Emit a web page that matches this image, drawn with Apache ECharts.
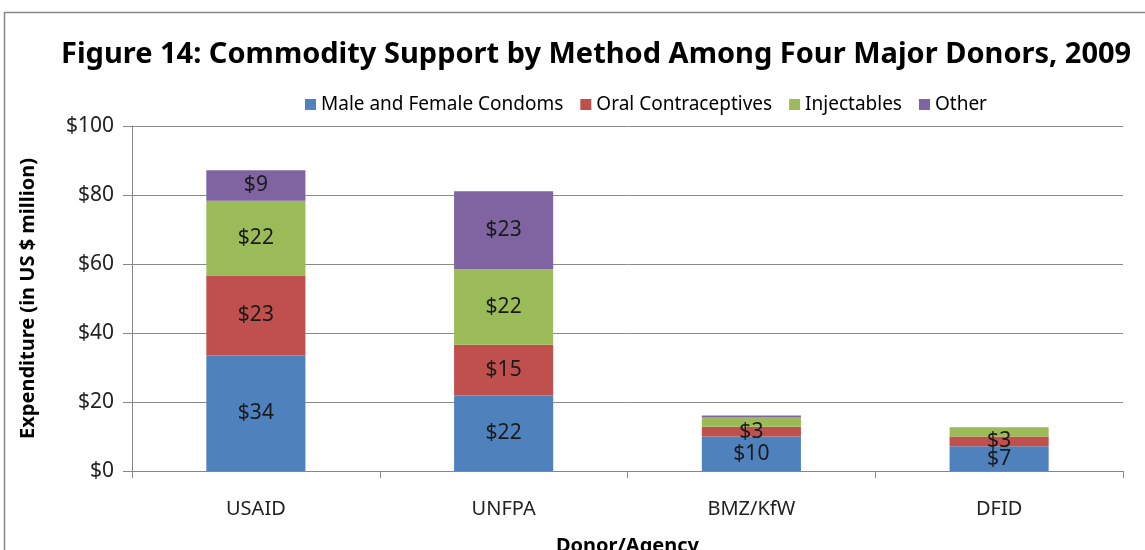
<!DOCTYPE html>
<html>
<head>
<meta charset="utf-8">
<script src="https://cdn.jsdelivr.net/npm/echarts@6/dist/echarts.min.js"></script>
<style>
  html, body { margin: 0; padding: 0; background: #fff; }
  #main { width: 1145px; height: 550px; }
</style>
</head>
<body>
<div id="main"></div>
<script>
var donors = ['USAID', 'UNFPA', 'BMZ/KfW', 'DFID'];
var condoms = [33.5, 21.9, 10.0, 7.2];
var oral = [23.2, 14.7, 2.8, 2.8];
var injectables = [21.6, 21.9, 2.7, 2.7];
var other = [8.9, 22.6, 0.6, 0];
var seriesNames = ['Male and Female Condoms', 'Oral Contraceptives', 'Injectables', 'Other'];
var colors = ['#4F81BD', '#C0504D', '#9BBB59', '#8064A2'];

var chartDom = document.getElementById('main');
var myChart = echarts.init(chartDom);
var font = 'Noto Sans';

// small segments get no label, as in the original
function withLabels(values) {
    return values.map(function (v) {
        return { value: v, label: { show: v >= 2.75 } };
    });
}

function makeSeries(name, values) {
    return {
        name: name,
        type: 'bar',
        stack: 'total',
        barWidth: '40%',
        data: withLabels(values),
        label: {
            position: 'inside',
            color: '#1a1a1a',
            fontFamily: font,
            fontSize: 21,
            formatter: function (p) { return '$' + Math.round(p.value); }
        }
    };
}

var option = {
    color: colors,
    animation: false,
    textStyle: { fontFamily: font },
    title: {
        text: 'Figure 14: Commodity Support by Method Among Four Major Donors, 2009',
        left: 56,
        top: 35,
        textStyle: { fontFamily: font, fontSize: 29, fontWeight: 'bold', color: '#000' }
    },
    legend: {
        top: 90,
        left: 300,
        itemWidth: 11,
        itemHeight: 11,
        itemGap: 17,
        icon: 'rect',
        textStyle: { fontFamily: font, fontSize: 19, color: '#000' },
        data: seriesNames
    },
    graphic: [{
        type: 'rect',
        shape: { x: 4.5, y: 12.5, width: 1160, height: 560 },
        style: { fill: 'none', stroke: '#888', lineWidth: 1.5 },
        silent: true
    }],
    grid: { left: 132, right: 22, top: 126, bottom: 79, outerBoundsMode: 'none', containLabel: false },
    xAxis: {
        type: 'category',
        data: donors,
        name: 'Donor/Agency',
        nameLocation: 'middle',
        nameGap: 65,
        nameTextStyle: { fontFamily: font, fontSize: 20, fontWeight: 'bold', color: '#000' },
        axisLine: { lineStyle: { color: '#868686' } },
        axisTick: { show: true, length: 7, lineStyle: { color: '#868686' } },
        axisLabel: { fontFamily: font, fontSize: 20, color: '#222', margin: 28 }
    },
    yAxis: {
        type: 'value',
        min: 0,
        max: 100,
        interval: 20,
        name: 'Expenditure (in US $ million)',
        nameLocation: 'middle',
        nameGap: 94,
        nameTextStyle: { fontFamily: font, fontSize: 20, fontWeight: 'bold', color: '#000' },
        axisLine: { show: true, lineStyle: { color: '#868686' } },
        axisTick: { show: true, length: 9, lineStyle: { color: '#868686' } },
        axisLabel: {
            fontFamily: font, fontSize: 21, color: '#222', margin: 18,
            formatter: function (v) { return '$' + v; }
        },
        splitLine: { lineStyle: { color: '#8a8a8a', width: 1 } }
    },
    series: [
        makeSeries(seriesNames[0], condoms),
        makeSeries(seriesNames[1], oral),
        makeSeries(seriesNames[2], injectables),
        makeSeries(seriesNames[3], other)
    ]
};

option && myChart.setOption(option);
</script>
</body>
</html>
